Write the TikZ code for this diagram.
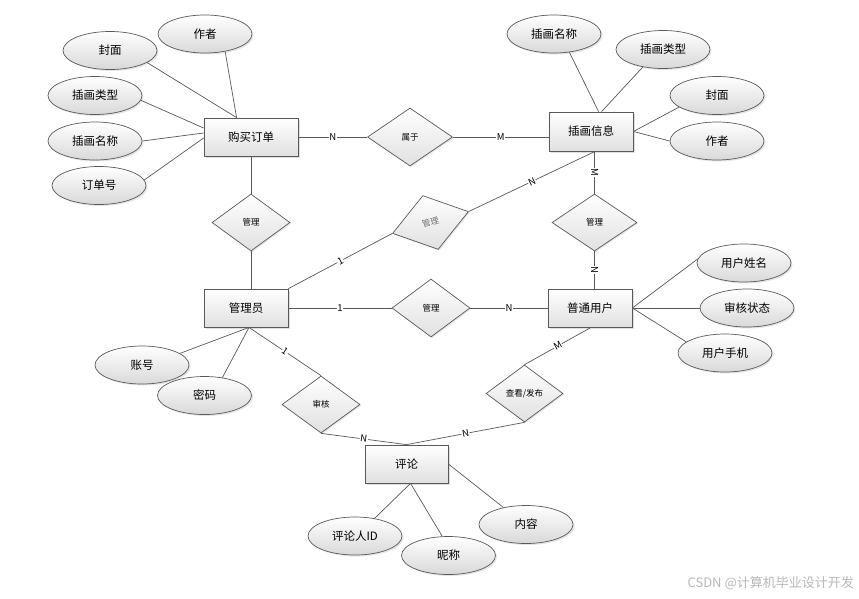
\documentclass[tikz,border=0pt]{standalone}
\usepackage{fontspec}
\setmainfont{Noto Sans CJK SC}
\usetikzlibrary{shapes.geometric,calc,shadows}
\begin{document}
\begin{tikzpicture}[x=1pt,y=-1pt,
  ent/.style={draw=black!65, line width=0.8pt, rectangle, minimum width=84pt, minimum height=38pt, inner sep=0pt,
    top color=white, bottom color=black!12, font=\fontsize{11.5}{13}\selectfont,
    drop shadow={opacity=0.25,shadow xshift=1.5pt,shadow yshift=-1.5pt}},
  attr/.style={draw=black!65, line width=0.7pt, ellipse, minimum width=94pt, minimum height=38pt, inner sep=0pt,
    top color=white, bottom color=black!15, font=\fontsize{11.5}{13}\selectfont,
    drop shadow={opacity=0.2,shadow xshift=1.5pt,shadow yshift=-1.5pt}},
  rel/.style={draw=black!65, line width=0.7pt, diamond, minimum width=78pt, minimum height=57pt, inner sep=0pt,
    top color=white, bottom color=black!12, font=\fontsize{8.5}{10}\selectfont,
    drop shadow={opacity=0.2,shadow xshift=1.2pt,shadow yshift=-1.2pt}},
  ln/.style={draw=black!65, line width=0.7pt},
  card/.style={fill=white, inner sep=0.6pt, font=\fontsize{9.5}{10}\selectfont, sloped}
]
\useasboundingbox[fill=white] (0,0) rectangle (859,598);

% entities
\node[ent, minimum width=94pt] (order) at (251,137) {购买订单};
\node[ent, minimum height=39pt] (info) at (591,131.5) {插画信息};
\node[ent] (admin) at (246,308) {管理员};
\node[ent] (user) at (590,308) {普通用户};
\node[ent, minimum width=83pt] (comment) at (406.5,464) {评论};

% attributes
\node[attr] (o1) at (205,34) {作者};
\node[attr] (o2) at (110,50.5) {封面};
\node[attr] (o3) at (95,95.5) {插画类型};
\node[attr] (o4) at (95,141) {插画名称};
\node[attr] (o5) at (99,185.5) {订单号};
\node[attr] (i1) at (554,34) {插画名称};
\node[attr] (i2) at (663,49.5) {插画类型};
\node[attr] (i3) at (717,95.5) {封面};
\node[attr] (i4) at (717,141) {作者};
\node[attr] (u1) at (744,263) {用户姓名};
\node[attr] (u2) at (747,308) {审核状态};
\node[attr] (u3) at (725,353) {用户手机};
\node[attr] (a1) at (142,365) {账号};
\node[attr] (a2) at (204.5,395.5) {密码};
\node[attr] (c1) at (355,536) {评论人ID};
\node[attr] (c2) at (448.5,555.5) {昵称};
\node[attr] (c3) at (526,524.5) {内容};

% relationships
\node[rel, minimum width=85pt, minimum height=58pt] (belong) at (410,137) {属于};
\node[rel] (m1) at (251,222.5) {管理};
\node[rel, rotate=16, minimum width=79pt, minimum height=56pt, text=black!55] (m2) at (430.5,222.5) {管理};
\node[rel, minimum width=85pt] (m3) at (594.5,222.5) {管理};
\node[rel, minimum height=58pt] (m4) at (431,308) {管理};
\node[rel] (audit) at (321,404.5) {审核};
\node[rel, minimum width=77pt] (view) at (524.5,393.5) {查看/发布};

% connectors
\draw[ln] (o1.-41) -- ($(order.north west)+(33,0)$);
\draw[ln] (o2.-18) -- ($(order.north west)+(33,0)$);
\draw[ln] (o3.-6) -- ($(order.west)+(0,-9)$);
\draw[ln] (o4.east) -- ($(order.west)+(0,-4)$);
\draw[ln] (o5.7) -- ($(order.west)+(0,1)$);
\draw[ln] (order.east) -- node[card]{N} (belong.west);
\draw[ln] (belong.east) -- node[card]{M} (belong.east -| info.west);
\draw[ln] (i1.-50) -- ($(info.north west)+(50,0)$);
\draw[ln] (i2.-139) -- ($(info.north west)+(53,0)$);
\draw[ln] (i3.-163) -- (info.east);
\draw[ln] (i4.west) -- (info.east);
\draw[ln] (order.south) -- (m1.north);
\draw[ln] (m1.south) -- (m1.south |- admin.north);
\draw[ln] (admin.north east) -- node[card]{1} (m2.west);
\draw[ln] (m2.east) -- node[card]{N} ($(info.south)+(4,0)$);
\draw[ln] ($(info.south)+(3.5,0)$) -- node[card]{M} (m3.north);
\draw[ln] (m3.south) -- node[card]{N} (m3.south |- user.north);
\draw[ln] (admin.east) -- node[card]{1} (m4.west);
\draw[ln] (m4.east) -- node[card]{N} (user.west);
\draw[ln] (user.east) -- (u1.175);
\draw[ln] (user.east) -- (u2.west);
\draw[ln] (user.east) -- (u3.164);
\draw[ln] ($(admin.south)+(3,0)$) -- (a1.17);
\draw[ln] ($(admin.south)+(3,0)$) -- (a2.45);
\draw[ln] ($(admin.south)+(3,0)$) -- node[card]{1} (audit.north);
\draw[ln] (audit.south) -- node[card]{N} (comment.north);
\draw[ln] ($(user.south)+(1,0)$) -- node[card]{M} (view.north);
\draw[ln] (view.south) -- node[card]{N} (comment.north);
\draw[ln] ($(comment.south)+(4,0)$) -- (c1.42);
\draw[ln] ($(comment.south)+(4,0)$) -- (c2.108);
\draw[ln] (comment.east) -- (c3.143);

% watermark
\node[text=black!28, font=\fontsize{13}{15}\selectfont, anchor=east, inner sep=0pt] (wm) at (854,583) {CSDN @计算机毕业设计开发};
\end{tikzpicture}
\end{document}
